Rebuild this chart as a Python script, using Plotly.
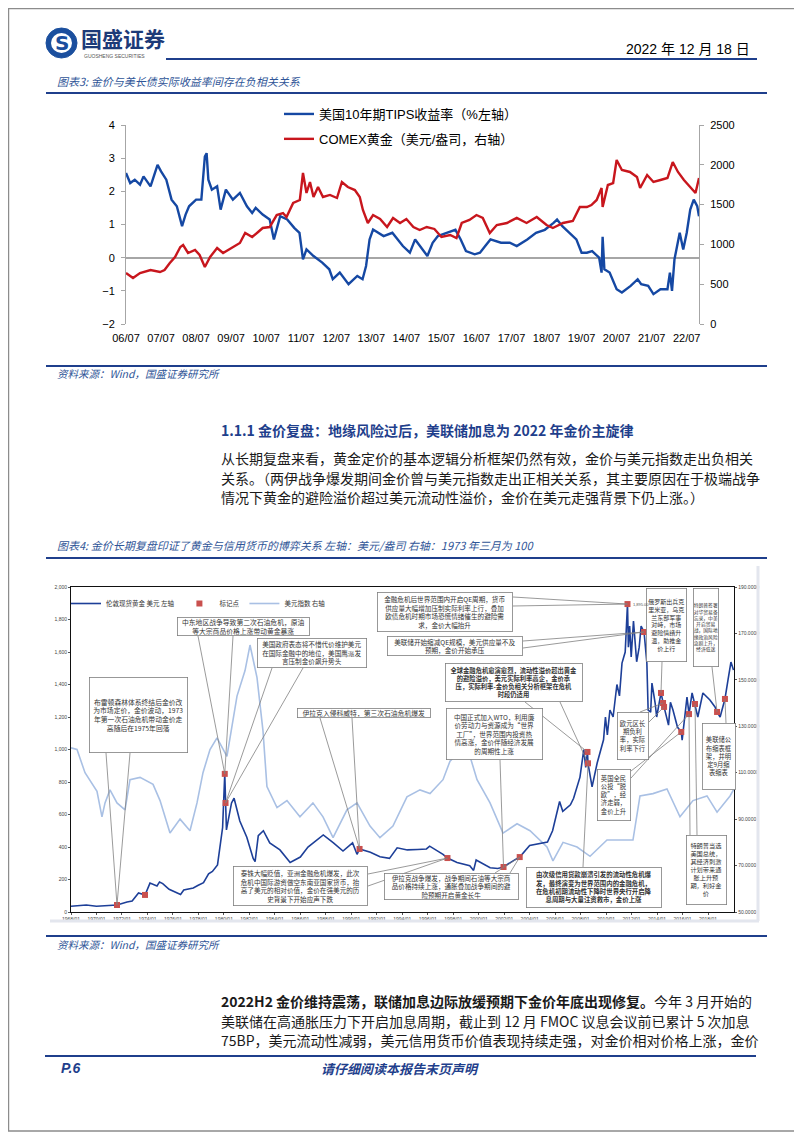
import plotly.graph_objects as go

# page size (reference picture) and the figure size (the HTML body adds an 8px margin)
W, H = 802, 1133
OFF = 8
FW, FH = W - OFF, H - OFF

# ================= 图表3 data =================
# (decimal year, US 10Y TIPS real yield, %)
tips_10y = [
    (2006.50, 2.55), (2006.62, 2.25), (2006.75, 2.35), (2006.90, 2.20), (2007.00, 2.45),
    (2007.20, 2.15), (2007.40, 2.80), (2007.50, 2.60), (2007.65, 2.35), (2007.80, 1.75),
    (2007.95, 1.55), (2008.10, 0.95), (2008.20, 1.30), (2008.30, 1.55), (2008.50, 1.75),
    (2008.65, 1.75), (2008.75, 3.05), (2008.80, 3.15), (2008.85, 2.35), (2008.95, 2.05),
    (2009.10, 2.15), (2009.20, 1.45), (2009.35, 2.05), (2009.55, 1.75), (2009.75, 1.95),
    (2009.95, 1.55), (2010.10, 1.35), (2010.20, 1.50), (2010.40, 1.30), (2010.60, 1.15),
    (2010.72, 0.55), (2010.90, 1.25), (2011.10, 1.15), (2011.30, 0.90), (2011.45, 0.75),
    (2011.50, 0.35), (2011.55, -0.05), (2011.65, 0.25), (2011.85, 0.05), (2012.10, -0.15),
    (2012.30, -0.35), (2012.40, -0.65), (2012.60, -0.45), (2012.85, -0.80), (2013.10, -0.55),
    (2013.25, -0.65), (2013.35, -0.25), (2013.45, 0.55), (2013.55, 0.85), (2013.85, 0.65),
    (2014.10, 0.75), (2014.40, 0.35), (2014.60, 0.15), (2014.75, 0.55), (2014.90, 0.35),
    (2015.10, 0.05), (2015.25, 0.45), (2015.40, 0.65), (2015.65, 0.75), (2015.90, 0.84),
    (2016.05, 0.55), (2016.20, 0.20), (2016.45, 0.10), (2016.60, 0.15), (2016.75, 0.35),
    (2016.90, 0.55), (2017.20, 0.45), (2017.45, 0.45), (2017.65, 0.35), (2017.95, 0.55),
    (2018.20, 0.75), (2018.45, 0.84), (2018.70, 1.05), (2018.80, 1.15), (2018.95, 0.95),
    (2019.15, 0.75), (2019.35, 0.55), (2019.50, 0.15), (2019.65, 0.15), (2019.80, 0.20),
    (2020.00, 0.00), (2020.07, -0.45), (2020.10, 0.63), (2020.15, -0.35), (2020.30, -0.45),
    (2020.50, -0.95), (2020.65, -1.05), (2020.90, -0.85), (2021.10, -0.65), (2021.20, -0.80),
    (2021.40, -0.85), (2021.55, -1.10), (2021.75, -0.95), (2021.95, -0.95), (2022.02, -0.45),
    (2022.08, -1.00), (2022.15, -0.05), (2022.30, 0.75), (2022.40, 0.25), (2022.50, 0.75),
    (2022.60, 1.45), (2022.70, 1.75), (2022.80, 1.55), (2022.85, 1.25),
]
# (decimal year, COMEX gold, USD/oz)
comex_gold = [
    (2006.50, 640), (2006.70, 578), (2006.90, 640), (2007.20, 678), (2007.47, 653),
    (2007.60, 678), (2007.75, 766), (2007.90, 842), (2008.05, 967), (2008.13, 992),
    (2008.27, 892), (2008.47, 930), (2008.60, 867), (2008.75, 716), (2008.90, 842),
    (2009.10, 955), (2009.27, 892), (2009.52, 955), (2009.75, 1018), (2009.90, 1143),
    (2010.10, 1093), (2010.27, 1156), (2010.40, 1206), (2010.60, 1218), (2010.80, 1369),
    (2010.98, 1394), (2011.08, 1344), (2011.27, 1520), (2011.46, 1558), (2011.55, 1897),
    (2011.65, 1646), (2011.75, 1784), (2011.85, 1596), (2011.98, 1721), (2012.12, 1596),
    (2012.32, 1621), (2012.52, 1583), (2012.66, 1784), (2012.83, 1721), (2013.03, 1683),
    (2013.17, 1596), (2013.26, 1432), (2013.40, 1269), (2013.55, 1369), (2013.75, 1319),
    (2013.95, 1219), (2014.12, 1332), (2014.32, 1269), (2014.50, 1319), (2014.70, 1219),
    (2014.88, 1181), (2015.08, 1219), (2015.30, 1194), (2015.50, 1093), (2015.75, 1118),
    (2015.93, 1080), (2016.08, 1269), (2016.30, 1307), (2016.50, 1369), (2016.68, 1332),
    (2016.88, 1143), (2017.08, 1244), (2017.37, 1269), (2017.65, 1332), (2017.93, 1269),
    (2018.22, 1344), (2018.50, 1244), (2018.68, 1206), (2018.97, 1269), (2019.25, 1294),
    (2019.45, 1470), (2019.65, 1470), (2019.78, 1495), (2019.93, 1558), (2020.07, 1709),
    (2020.10, 1470), (2020.25, 1746), (2020.40, 1771), (2020.50, 2060), (2020.65, 1935),
    (2020.88, 1910), (2021.08, 1847), (2021.17, 1709), (2021.37, 1872), (2021.55, 1784),
    (2021.75, 1809), (2021.95, 1834), (2022.10, 2035), (2022.25, 1910), (2022.42, 1809),
    (2022.62, 1709), (2022.75, 1646), (2022.85, 1834),
]
fig3_tick_pos = [2006.5, 2007.5, 2008.5, 2009.5, 2010.5, 2011.5, 2012.5, 2013.5, 2014.5,
                 2015.5, 2016.5, 2017.5, 2018.5, 2019.5, 2020.5, 2021.5, 2022.5]
fig3_tick_text = ["06/07", "07/07", "08/07", "09/07", "10/07", "11/07", "12/07", "13/07", "14/07",
                  "15/07", "16/07", "17/07", "18/07", "19/07", "20/07", "21/07", "22/07"]

# ================= 图表4 data =================
# (decimal year, London spot gold, USD/oz)
london_gold = [
    (1968.00, 35), (1968.50, 40), (1969.20, 43), (1970.00, 35), (1970.80, 37),
    (1971.61, 43), (1972.40, 62), (1972.80, 68), (1973.30, 117), (1973.81, 105),
    (1974.20, 178), (1974.75, 160), (1974.95, 185), (1975.20, 175), (1975.70, 140),
    (1976.00, 130), (1976.60, 108), (1976.85, 135), (1977.60, 148), (1977.95, 163),
    (1978.40, 180), (1978.80, 235), (1979.10, 250), (1979.50, 290), (1979.70, 400),
    (1979.90, 520), (1980.07, 850), (1980.13, 671), (1980.20, 505), (1980.60, 671),
    (1980.80, 700), (1981.25, 560), (1981.80, 460), (1982.30, 330), (1982.45, 310),
    (1982.70, 470), (1983.10, 500), (1983.60, 425), (1984.40, 382), (1985.20, 305),
    (1986.00, 338), (1986.60, 400), (1987.30, 440), (1987.80, 474), (1988.60, 425),
    (1989.35, 375), (1990.10, 425), (1990.45, 355), (1990.65, 388), (1991.50, 368),
    (1992.25, 340), (1993.00, 330), (1993.60, 395), (1994.40, 382), (1995.20, 385),
    (1995.90, 388), (1996.15, 405), (1997.20, 355), (1997.55, 332), (1998.30, 305),
    (1999.30, 285), (1999.60, 256), (1999.80, 320), (2000.90, 272), (2001.50, 268),
    (2001.95, 277), (2002.70, 315), (2003.22, 338), (2004.00, 410), (2004.80, 420),
    (2005.40, 430), (2005.80, 500), (2006.35, 680), (2006.60, 620), (2007.20, 660),
    (2007.45, 700), (2007.95, 830), (2008.25, 1000), (2008.40, 890), (2008.54, 985),
    (2008.58, 915), (2008.90, 770), (2009.30, 917), (2009.80, 1060), (2009.95, 1200),
    (2010.10, 1090), (2010.30, 1243), (2010.55, 1200), (2010.85, 1400), (2011.05, 1330),
    (2011.25, 1532), (2011.50, 1600), (2011.60, 1754), (2011.68, 1895), (2011.75, 1630),
    (2011.85, 1760), (2011.97, 1570), (2012.15, 1790), (2012.40, 1540), (2012.60, 1630),
    (2012.75, 1760), (2012.98, 1723), (2013.20, 1532), (2013.30, 1243), (2013.50, 1230),
    (2013.60, 1409), (2013.85, 1286), (2013.97, 1200), (2014.31, 1348), (2014.47, 1286),
    (2014.55, 1262), (2014.90, 1150), (2015.05, 1290), (2015.25, 1243), (2015.60, 1138),
    (2015.90, 1108), (2015.97, 1058), (2016.35, 1323), (2016.51, 1218), (2016.75, 1348),
    (2016.98, 1280), (2017.20, 1200), (2017.60, 1348), (2018.15, 1305), (2018.55, 1262),
    (2018.71, 1231), (2018.95, 1200), (2019.33, 1311), (2019.57, 1428), (2019.80, 1538),
    (2020.00, 1489),
]
# (decimal year, US dollar index, 1973-03 = 100)
usd_index = [
    (1968.00, 120.7), (1968.47, 120.0), (1969.10, 110.0), (1970.04, 102.0), (1970.43, 91.0),
    (1970.67, 97.0), (1971.06, 102.6), (1971.61, 97.0), (1972.24, 94.0), (1972.63, 107.0),
    (1973.42, 108.0), (1974.44, 105.0), (1974.99, 98.0), (1975.77, 84.0), (1976.56, 90.0),
    (1977.34, 85.0), (1977.89, 97.0), (1978.36, 110.0), (1978.91, 120.0), (1979.46, 125.0),
    (1980.24, 117.0), (1981.03, 143.0), (1981.66, 154.0), (1982.05, 165.0), (1982.60, 151.0),
    (1983.07, 128.0), (1983.38, 104.0), (1984.17, 95.0), (1984.95, 98.0), (1985.97, 91.0),
    (1986.99, 97.0), (1987.78, 91.0), (1988.57, 82.0), (1989.66, 94.0), (1990.45, 97.0),
    (1991.47, 87.0), (1992.25, 82.0), (1993.27, 87.0), (1994.37, 99.6), (1995.39, 102.6),
    (1996.18, 101.0), (1997.20, 107.0), (1997.75, 115.0), (1998.30, 118.0), (1998.93, 120.0),
    (1999.32, 117.0), (1999.87, 107.0), (2000.89, 97.0), (2001.91, 84.0), (2003.01, 88.0),
    (2004.03, 85.0), (2005.36, 78.0), (2005.83, 72.0), (2006.62, 80.0), (2007.72, 78.0),
    (2008.74, 74.0), (2010.07, 81.0), (2011.09, 81.0), (2012.11, 81.0), (2012.66, 100.0),
    (2013.68, 101.0), (2014.78, 103.0), (2015.80, 91.0), (2016.82, 98.0), (2017.92, 100.0),
    (2018.71, 93.0), (2019.73, 100.0), (2020.04, 103.0),
]
# red "标记点" on the gold line: (decimal year, USD/oz)
key_events = [
    (1971.61, 43), (1973.81, 105), (1980.07, 850), (1980.13, 671), (1990.65, 388),
    (1997.55, 332), (2001.95, 277), (2003.22, 338), (2008.54, 985), (2008.58, 915),
    (2011.68, 1895), (2012.98, 1723), (2014.31, 1348), (2014.47, 1286), (2014.55, 1262),
    (2015.90, 1108), (2016.51, 1218), (2016.98, 1280), (2018.71, 1231), (2019.33, 1311),
]
fig4_tick_pos = [1968, 1970, 1972, 1974, 1976, 1978, 1980, 1982, 1984, 1986, 1988, 1990, 1992,
                 1994, 1996, 1998, 2000, 2002, 2004, 2006, 2008, 2010, 2012, 2014, 2016, 2018]
fig4_tick_text = ["1968/01", "1970/01", "1972/01", "1974/01", "1976/01", "1978/01", "1980/01",
                  "1982/01", "1984/01", "1986/01", "1988/01", "1990/01", "1992/01", "1994/01",
                  "1996/01", "1998/01", "2000/01", "2002/01", "2004/01", "2006/01", "2008/01",
                  "2010/01", "2012/01", "2014/01", "2016/01", "2018/01"]

# ================= styles / layout helpers =================
NAVY = "#1f3f8c"
CAP = "#2f5597"
BLUE3 = "#1548a3"
RED3 = "#c8161d"
GOLD4 = "#1d3f98"
USD4 = "#a9c0e4"
MARK4 = "#c9504e"
CJK = "Noto Sans CJK SC"
LAT = "Liberation Sans, Noto Sans CJK SC"


def fx(p):
    """page x pixel -> paper fraction"""
    return (p - OFF) / FW


def fy(p):
    """page y pixel -> paper fraction"""
    return 1 - (p - OFF) / FH


# figure-4 plot area in page pixels
F4_L, F4_R, F4_T, F4_B = 71, 734, 587, 912
F4_X0, F4_X1 = 1968.0, 2020.04


def f4_year(p):
    return F4_X0 + (p - F4_L) * (F4_X1 - F4_X0) / (F4_R - F4_L)


def f4_gold(p):
    return (F4_B - p) * 2000 / (F4_B - F4_T)


fig = go.Figure()

# ---- figure 3 traces ----
tx, ty = zip(*tips_10y)
cx, cy = zip(*comex_gold)
fig.add_trace(go.Scatter(x=tx, y=ty, mode="lines", name="美国10年期TIPS收益率（%左轴）",
                         line=dict(color=BLUE3, width=2.4), xaxis="x", yaxis="y",
                         legend="legend", legendrank=1, legendgroup="a", hoverinfo="skip"))
fig.add_trace(go.Scatter(x=cx, y=cy, mode="lines", name="COMEX黄金（美元/盎司，右轴）",
                         line=dict(color=RED3, width=2.4), xaxis="x", yaxis="y2",
                         legend="legend", legendrank=2, legendgroup="b", hoverinfo="skip"))

# ---- figure 4 traces ----
ux, uy = zip(*usd_index)
gx, gy = zip(*london_gold)
kx, ky = zip(*key_events)
fig.add_trace(go.Scatter(x=ux, y=uy, mode="lines", name="美元指数 右轴",
                         line=dict(color=USD4, width=1.6), xaxis="x2", yaxis="y3",
                         legend="legend2", legendrank=3, hoverinfo="skip"))
fig.add_trace(go.Scatter(x=gx, y=gy, mode="lines", name="伦敦现货黄金 美元 左轴",
                         line=dict(color=GOLD4, width=1.6), xaxis="x2", yaxis="y4",
                         legend="legend2", legendrank=1, hoverinfo="skip"))
fig.add_trace(go.Scatter(x=kx, y=ky, mode="markers", name="标记点",
                         marker=dict(symbol="square", size=6, color=MARK4),
                         xaxis="x2", yaxis="y4", legend="legend2", legendrank=2, hoverinfo="skip"))

shapes = []
annotations = []


def hline(x0, x1, y, color=NAVY, width=2):
    shapes.append(dict(type="line", xref="paper", yref="paper", x0=fx(x0), x1=fx(x1),
                       y0=fy(y), y1=fy(y), line=dict(color=color, width=width)))


def text(x, y, s, size, color="#000", family=CJK, xanchor="left", yanchor="middle", **kw):
    annotations.append(dict(xref="paper", yref="paper", x=fx(x), y=fy(y), text=s, showarrow=False,
                            xanchor=xanchor, yanchor=yanchor,
                            font=dict(size=size, color=color, family=family), **kw))


# page frame (left/top edges sit at the figure edge)
shapes.append(dict(type="rect", xref="paper", yref="paper", x0=0.0006, x1=fx(800), y0=fy(1131), y1=0.9995,
                   line=dict(color="#8c8c8c", width=1.5)))

# header: logo, date, rule
shapes.append(dict(type="circle", xref="paper", yref="paper", x0=fx(46), x1=fx(77), y0=fy(58), y1=fy(28),
                   fillcolor="#1b4f9e", line=dict(color="#1b4f9e", width=1)))
shapes.append(dict(type="circle", xref="paper", yref="paper", x0=fx(51), x1=fx(72), y0=fy(53), y1=fy(33),
                   fillcolor="white", line=dict(color="white", width=0)))
text(61.5, 43, "<b>S</b>", 20, "#1b4f9e", "DejaVu Sans", xanchor="center")
text(79, 38, "<b>国盛证券</b>", 21, "#1c3a78")
text(82, 56, "GUOSHENG SECURITIES", 5, "#555555", "Liberation Sans")
text(752, 49, "2022 年 12 月 18 日", 14, "#000", LAT, xanchor="right")
hline(166, 757, 59)

# figure 3 caption and source
text(55, 81, "<i>图表3: 金价与美长债实际收益率间存在负相关关系</i>", 11, CAP)
hline(46, 767, 93)
hline(46, 767, 366)
text(55, 374, "<i>资料来源：Wind，国盛证券研究所</i>", 10.5, CAP)

# section heading + paragraph
text(219, 430, "<b>1.1.1 金价复盘：地缘风险过后，美联储加息为 2022 年金价主旋律</b>", 14, NAVY)
para1 = ["从长期复盘来看，黄金定价的基本逻辑分析框架仍然有效，金价与美元指数走出负相关",
         "关系。（两伊战争爆发期间金价曾与美元指数走出正相关关系，其主要原因在于极端战争",
         "情况下黄金的避险溢价超过美元流动性溢价，金价在美元走强背景下仍上涨。）"]
for i, s in enumerate(para1):
    text(219, 458 + i * 19.5, s, 14, "#1a1a1a")

# figure 4 caption
text(55, 545, "<i>图表4: 金价长期复盘印证了黄金与信用货币的博弈关系 左轴：美元/盎司 右轴：1973 年三月为 100</i>",
     11, CAP)
hline(46, 767, 558)

# figure 4 faint picture edge
shapes.append(dict(type="line", xref="paper", yref="paper", x0=fx(50), x1=fx(759), y0=fy(921), y1=fy(921),
                   line=dict(color="#e3e6ee", width=3)))
shapes.append(dict(type="line", xref="paper", yref="paper", x0=fx(758), x1=fx(758), y0=fy(921), y1=fy(566),
                   line=dict(color="#e3e6ee", width=3)))

# figure 4 source
hline(46, 767, 936)
text(55, 944, "<i>资料来源：Wind，国盛证券研究所</i>", 10.5, CAP)

# second paragraph
para2 = ["<b>2022H2 金价维持震荡，联储加息边际放缓预期下金价年底出现修复。</b>今年 3 月开始的",
         "美联储在高通胀压力下开启加息周期，截止到 12 月 FMOC 议息会议前已累计 5 次加息",
         "75BP，美元流动性减弱，美元信用货币价值表现持续走强，对金价相对价格上涨，金价"]
for i, s in enumerate(para2):
    text(219, 1001 + i * 19.5, s, 14, "#1a1a1a")

# footer
hline(45, 756, 1056)
text(59, 1068, "<b><i>P.6</i></b>", 14, NAVY, LAT)
text(400, 1068, "<b><i>请仔细阅读本报告末页声明</i></b>", 13, NAVY, xanchor="center")

# ---- figure 4 annotation boxes (page pixel boxes) ----
boxes = [
    (89, 188, 677, 753, "布雷顿森林体系终结后金价改<br>为市场定价，金价波动，1973<br>年第一次石油危机带动金价走<br>高随后在1975年回落", 6.8, False),
    (177, 310, 617, 636, "中东地区战争导致第二次石油危机，原油<br>等大宗商品价格上涨带动黄金暴涨", 6.8, False),
    (257, 367, 638, 668, "美国政府表态将不惜代价维护美元<br>在国际金融中的地位，美国鹰派发<br>言压制金价飙升势头", 6.6, False),
    (297, 431, 708, 718, "伊拉克入侵科威特，第三次石油危机爆发", 6.8, False),
    (377, 513, 592, 632, "金融危机后世界范围内开启QE周期，货币<br>供应量大幅增加压制实际利率上行，叠加<br>欧债危机时期市场恐慌情绪催生的避险需<br>求，金价大幅抬升", 6.6, False),
    (387, 523, 636, 656, "美联储开始缩减QE规模，美元供应量不及<br>预期，金价开始承压", 6.6, False),
    (445, 583, 663, 702, "全球金融危机愈演愈烈，流动性溢价超出黄金<br>的避险溢价，美元实际利率高企，金价承<br>压，实际利率-金价负相关分析框架在危机<br>时段仍适用", 6.3, True),
    (446, 543, 708, 760, "中国正式加入WTO，利用廉<br>价劳动力与资源成为“世界<br>工厂”，世界范围内投资热<br>情高涨，金价伴随经济发展<br>的周期性上涨", 6.6, False),
    (233, 368, 866, 906, "泰铢大幅贬值，亚洲金融危机爆发，此次<br>危机中国际游资做空东南亚国家货币，抬<br>高了美元的相对价值，金价在强美元的历<br>史背景下开始应声下跌", 6.6, False),
    (384, 519, 873, 900, "伊拉克战争爆发，战争期间石油等大宗商<br>品价格持续上涨，通胀叠加战争期间的避<br>险预期开启黄金长牛", 6.6, False),
    (526, 662, 867, 908, "由次级信用贷款崩溃引发的流动性危机爆<br>发，最终演变为世界范围内的金融危机，<br>在危机初期流动性下降时世界央行开启降<br>息周期与大量注资救市，金价上涨", 6.4, True),
    (617, 649, 712, 760, "欧元区长<br>期负利<br>率，实际<br>利率下行", 6.3, False),
    (597, 631, 769, 821, "英国全民<br>公投“脱<br>欧”，经<br>济走弱，<br>金价上升", 6.3, False),
    (646, 687, 588, 662, "俄罗斯出兵克<br>里米亚，乌克<br>兰东部军事<br>对峙，市场<br>避险情绪升<br>温，助推金<br>价上行", 6.0, False),
    (693, 719, 588, 667, "特朗普签署<br>对华贸易备<br>忘录，中美<br>开启贸易<br>战，国际地<br>缘政治风险<br>急剧上升，<br>经济低迷", 4.8, False),
    (702, 736, 723, 790, "美联储公<br>布缩表框<br>架，并明<br>定9月缩<br>表缩表", 6.3, False),
    (686, 727, 835, 905, "特朗普当选<br>美国总统，<br>其经济刺激<br>计划带来通<br>胀上升预<br>期，利好金<br>价", 6.2, False),
]

# leader lines: (box anchor x px, box anchor y px, index into key_events)
leaders = [
    (106, 753, 0), (130, 753, 0), (198, 636, 2), (233, 636, 2), (272, 668, 3), (303, 668, 3),
    (320, 718, 4), (352, 718, 4), (513, 597, 10), (513, 606, 10), (523, 641, 11), (523, 648, 11),
    (525, 702, 8), (560, 702, 9), (500, 760, 6), (368, 874, 5), (368, 886, 5), (510, 873, 7),
    (495, 873, 7), (583, 867, 9), (640, 712, 13), (649, 722, 14), (631, 771, 15), (631, 778, 16),
    (662, 662, 12), (712, 667, 18), (726, 723, 19), (690, 835, 16), (697, 835, 17),
]
for bx, by, i in leaders:
    shapes.append(dict(type="line", xref="x2", yref="y4", x0=f4_year(bx), y0=f4_gold(by),
                       x1=kx[i], y1=ky[i], line=dict(color="#808080", width=0.8)))

for x0, x1, y0, y1, s, size, bold in boxes:
    annotations.append(dict(xref="paper", yref="paper", x=fx((x0 + x1) / 2), y=fy((y0 + y1) / 2),
                            xanchor="center", yanchor="middle", showarrow=False,
                            text=("<b>%s</b>" % s) if bold else s, align="center",
                            width=x1 - x0 - 2, height=y1 - y0 - 2, bgcolor="white",
                            bordercolor="#7f7f7f", borderwidth=0.8, borderpad=0,
                            font=dict(size=size, color="#333333", family=CJK)))

# peak value label next to the 2011 marker
annotations.append(dict(xref="x2", yref="y4", x=kx[10], y=ky[10], text="1,895.00", showarrow=False,
                        xanchor="left", yanchor="middle", xshift=4,
                        font=dict(size=4, color="#555555", family="Liberation Sans")))

fig.update_layout(
    width=FW, height=FH, autosize=False,
    margin=dict(l=0, r=0, t=0, b=0, pad=0, autoexpand=False),
    paper_bgcolor="white", plot_bgcolor="rgba(0,0,0,0)",
    font=dict(family=CJK, color="#000"),
    showlegend=True,
    shapes=shapes, annotations=annotations,
    # ---- figure 3 axes ----
    xaxis=dict(domain=[fx(126), fx(699)], range=[2006.5, 2022.85], anchor="y", automargin=False,
               tickmode="array", tickvals=fig3_tick_pos, ticktext=fig3_tick_text,
               showgrid=False, zeroline=False, showline=False, ticks="",
               ticklabelstandoff=6, tickfont=dict(family=LAT, size=11, color="#000")),
    # small year ticks sitting on the zero line
    xaxis3=dict(overlaying="x", matches="x", anchor="free", position=fy(258), side="bottom",
                automargin=False, tickmode="array", tickvals=fig3_tick_pos, showticklabels=False,
                ticks="inside", ticklen=4, tickcolor="#a6a6a6", showline=False, showgrid=False,
                zeroline=False),
    yaxis=dict(domain=[fy(324), fy(125)], range=[-2, 4], dtick=1, anchor="x", automargin=False,
               showline=True, linecolor="#a6a6a6", linewidth=1, ticks="outside", ticklen=4,
               tickcolor="#a6a6a6", showgrid=False, zeroline=True, zerolinecolor="#a6a6a6",
               zerolinewidth=1.5, ticklabelstandoff=4, tickfont=dict(family=LAT, size=11, color="#000")),
    yaxis2=dict(overlaying="y", side="right", anchor="x", range=[0, 2500], dtick=500, automargin=False,
                showline=True, linecolor="#a6a6a6", linewidth=1, ticks="outside", ticklen=4,
                tickcolor="#a6a6a6", showgrid=False, zeroline=False, ticklabelstandoff=4,
                tickfont=dict(family=LAT, size=11, color="#000")),
    # ---- figure 4 axes ----
    xaxis2=dict(domain=[fx(F4_L), fx(F4_R)], range=[F4_X0, F4_X1], anchor="y3", automargin=False,
                tickmode="array", tickvals=fig4_tick_pos, ticktext=fig4_tick_text,
                showgrid=False, zeroline=False, showline=True, mirror=True, linecolor="#111",
                linewidth=1.3, ticks="outside", ticklen=2, tickcolor="#555",
                tickfont=dict(family="Liberation Sans", size=5, color="#444")),
    yaxis3=dict(domain=[fy(F4_B), fy(F4_T)], range=[50, 190], anchor="x2", side="right", automargin=False,
                tickmode="array", tickvals=[50, 70, 90, 110, 130, 150, 170, 190], tickformat=".4f",
                showgrid=False, zeroline=False, showline=True, mirror=True, linecolor="#111",
                linewidth=1.3, ticks="outside", ticklen=2, tickcolor="#555",
                tickfont=dict(family="Liberation Sans", size=5, color="#444")),
    yaxis4=dict(overlaying="y3", side="left", anchor="x2", range=[0, 2000], dtick=200, tickformat=",",
                automargin=False, showgrid=False, zeroline=False, showline=False, ticks="outside",
                ticklen=2, tickcolor="#555", tickfont=dict(family="Liberation Sans", size=5, color="#444")),
    legend=dict(x=fx(279), y=fy(99), xanchor="left", yanchor="top", bgcolor="rgba(0,0,0,0)",
                font=dict(family=LAT, size=13, color="#000"), tracegroupgap=5, itemwidth=30),
    legend2=dict(orientation="h", x=fx(66), y=fy(589), xanchor="left", yanchor="top",
                 bgcolor="rgba(0,0,0,0)", font=dict(family=CJK, size=6.5, color="#333"), itemwidth=30),
)

fig.write_html("out.html")
